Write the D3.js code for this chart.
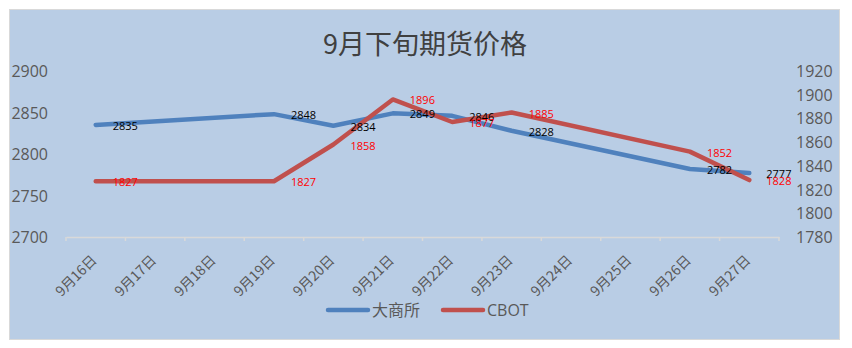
<!DOCTYPE html>
<html>
<head>
<meta charset="utf-8">
<script src="https://cdn.jsdelivr.net/npm/d3@7"></script>
<style>
  body { margin: 0; background: #fff; }
  svg { display: block; }
</style>
</head>
<body>
<svg id="chart" width="852" height="348"></svg>
<script>
// categories on the x axis (every calendar day, weekends have no data)
var categories = ["9月16日", "9月17日", "9月18日", "9月19日", "9月20日", "9月21日",
                  "9月22日", "9月23日", "9月24日", "9月25日", "9月26日", "9月27日"];
// trading days that carry values
var tradeDays = ["9月16日", "9月19日", "9月20日", "9月21日", "9月22日", "9月23日", "9月26日", "9月27日"];
var dce  = [2835, 2848, 2834, 2849, 2846, 2828, 2782, 2777];   // 大商所, left axis
var cbot = [1827, 1827, 1858, 1896, 1877, 1885, 1852, 1828];   // CBOT, right axis
var leftTicks  = [2700, 2750, 2800, 2850, 2900];
var rightTicks = [1780, 1800, 1820, 1840, 1860, 1880, 1900, 1920];
var seriesNames = ["大商所", "CBOT"];

var svg = d3.select("#chart");
var numFont = "'Open Sans', 'Liberation Sans', sans-serif";
var cjkFont = "'Noto Sans CJK SC', 'Noto Sans', sans-serif";
var grey = "#595959";
var blue = "#4F81BD", red = "#C0504D";

// chart background
svg.append("rect")
    .attr("x", 9.5).attr("y", 9.5)
    .attr("width", 830).attr("height", 330)
    .attr("fill", "#B9CDE5")
    .attr("stroke", "#d9d9d9");

var plot = {left: 66, right: 779, top: 71, bottom: 237};

var x = d3.scaleBand().domain(categories).range([plot.left, plot.right]);
var yL = d3.scaleLinear().domain([2700, 2900]).range([plot.bottom, plot.top]);
var yR = d3.scaleLinear().domain([1780, 1920]).range([plot.bottom, plot.top]);
function cx(d) { return x(d) + x.bandwidth() / 2; }

// title
svg.append("text")
    .attr("x", 425).attr("y", 54)
    .attr("text-anchor", "middle")
    .attr("font-family", cjkFont)
    .attr("font-size", 27)
    .attr("fill", "#404040")
    .text("9月下旬期货价格");

// left axis labels
svg.append("g").selectAll("text")
    .data(leftTicks).enter().append("text")
    .attr("x", 48).attr("y", function (d) { return yL(d) + 6; })
    .attr("text-anchor", "end")
    .attr("font-family", numFont).attr("font-size", 16)
    .attr("fill", grey)
    .text(function (d) { return d; });

// right axis labels
svg.append("g").selectAll("text")
    .data(rightTicks).enter().append("text")
    .attr("x", 796).attr("y", function (d) { return yR(d) + 6; })
    .attr("text-anchor", "start")
    .attr("font-family", numFont).attr("font-size", 16)
    .attr("fill", grey)
    .text(function (d) { return d; });

// x axis line with tick marks
var xAxis = d3.axisBottom(x).tickSizeOuter(0).tickSizeInner(0).tickFormat("");
var gx = svg.append("g").attr("transform", "translate(0," + plot.bottom + ")").call(xAxis);
gx.select(".domain").attr("stroke", "#d9d9d9").attr("stroke-width", 1.5);
gx.selectAll(".tick").remove();
var tickPos = categories.map(function (d) { return x(d); }).concat([plot.right]);
gx.selectAll("line.t").data(tickPos).enter().append("line")
    .attr("class", "t")
    .attr("x1", function (d) { return d; }).attr("x2", function (d) { return d; })
    .attr("y1", 0).attr("y2", 4)
    .attr("stroke", "#d9d9d9").attr("stroke-width", 1.5);

// rotated category labels
svg.append("g").selectAll("text")
    .data(categories).enter().append("text")
    .attr("transform", function (d) { return "translate(" + (cx(d) + 2) + ",261) rotate(-45)"; })
    .attr("text-anchor", "end")
    .attr("font-family", cjkFont).attr("font-size", 14)
    .attr("fill", grey)
    .text(function (d) { return d; });

// lines
var lineL = d3.line()
    .x(function (d, i) { return cx(tradeDays[i]); })
    .y(function (d) { return yL(d); });
var lineR = d3.line()
    .x(function (d, i) { return cx(tradeDays[i]); })
    .y(function (d) { return yR(d); });

svg.append("path").datum(dce)
    .attr("d", lineL)
    .attr("fill", "none").attr("stroke", blue).attr("stroke-width", 4.5)
    .attr("stroke-linejoin", "round").attr("stroke-linecap", "round");

svg.append("path").datum(cbot)
    .attr("d", lineR)
    .attr("fill", "none").attr("stroke", red).attr("stroke-width", 4.5)
    .attr("stroke-linejoin", "round").attr("stroke-linecap", "round");

// data labels
svg.append("g").selectAll("text")
    .data(dce).enter().append("text")
    .attr("x", function (d, i) { return cx(tradeDays[i]) + 17; })
    .attr("y", function (d) { return yL(d) + 5; })
    .attr("font-family", numFont).attr("font-size", 11)
    .attr("fill", "#000")
    .text(function (d) { return d; });

svg.append("g").selectAll("text")
    .data(cbot).enter().append("text")
    .attr("x", function (d, i) { return cx(tradeDays[i]) + 17; })
    .attr("y", function (d) { return yR(d) + 5; })
    .attr("font-family", numFont).attr("font-size", 11)
    .attr("fill", "#FF0000")
    .text(function (d) { return d; });

// legend
var legend = svg.append("g");
var legX = [328, 443];
[blue, red].forEach(function (c, i) {
    legend.append("line")
        .attr("x1", legX[i]).attr("x2", legX[i] + 40)
        .attr("y1", 310).attr("y2", 310)
        .attr("stroke", c).attr("stroke-width", 4.5)
        .attr("stroke-linecap", "round");
    legend.append("text")
        .attr("x", legX[i] + 44).attr("y", 316)
        .attr("font-family", i === 0 ? cjkFont : numFont)
        .attr("font-size", 16)
        .attr("fill", grey)
        .text(seriesNames[i]);
});
</script>
</body>
</html>
